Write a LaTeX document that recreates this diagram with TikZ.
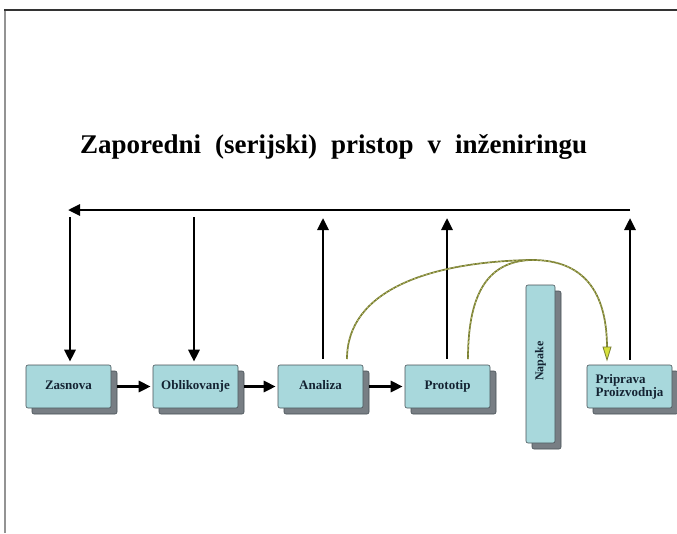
\documentclass[tikz,border=0pt]{standalone}
\usepackage{fontspec}
\setmainfont{Liberation Serif}
\usetikzlibrary{arrows.meta,shadows}
\definecolor{boxfill}{RGB}{168,216,220}
\definecolor{boxline}{RGB}{70,80,85}
\definecolor{shadowfill}{RGB}{120,126,132}
\definecolor{boxtext}{RGB}{20,35,50}
\definecolor{curveolive}{RGB}{120,126,50}
\definecolor{curvelight}{RGB}{205,205,120}
\definecolor{tipfill}{RGB}{215,225,60}
\tikzset{
  procbox/.style={rectangle, rounded corners=2pt, fill=boxfill, draw=boxline, line width=0.6pt,
    minimum width=85pt, minimum height=43pt, inner sep=0pt, text=boxtext,
    font=\fontsize{13}{15}\selectfont\bfseries,
    copy shadow={shadow xshift=6pt, shadow yshift=-6pt, fill=shadowfill, draw=boxline}},
  oneline/.style={text height=9pt, text depth=3pt},
  flowarrow/.style={line width=2.8pt, -{Triangle[length=12pt,width=11pt]}},
  feedback/.style={draw=curveolive, line width=1.7pt},
  feedbackdash/.style={draw=curvelight, line width=0.5pt, dash pattern=on 2pt off 2pt},
}
\begin{document}
\begin{tikzpicture}[x=1pt,y=-1pt]
\useasboundingbox (0,0) rectangle (677,533);
% frame
\draw[line width=2pt, draw=gray!85] (5,533) -- (5,10);
\draw[line width=1.3pt, draw=black!80] (4,10) -- (677,10);
% title
\node[anchor=base west, inner sep=0pt, font=\fontsize{27}{30}\selectfont\bfseries] (title) at (80,153)
  {\spaceskip=14pt Zaporedni (serijski) pristop v inženiringu};
% boxes
\node[procbox, oneline] (z) at (68.5,386.5) {Zasnova};
\node[procbox, oneline] (o) at (195.5,386.5) {Oblikovanje};
\node[procbox, oneline] (a) at (320.5,386.5) {Analiza};
\node[procbox, oneline] (p) at (447.5,386.5) {Prototip};
\node[procbox, minimum width=29pt, minimum height=158pt] (n) at (540.5,364) {};
\node[rotate=90, text=boxtext, font=\fontsize{12}{14}\selectfont\bfseries, inner sep=0pt] (nt) at (540.5,361) {Napake};
\node[procbox, align=left] (pp) at (629.5,386.5) {Priprava\\[-2pt]Proizvodnja};
% horizontal arrows between boxes
\draw[flowarrow] ([xshift=6pt]z.east) -- ([xshift=-2pt]o.west);
\draw[flowarrow] ([xshift=6pt]o.east) -- ([xshift=-2pt]a.west);
\draw[flowarrow] ([xshift=6pt]a.east) -- ([xshift=-2pt]p.west);
% top return line
\coordinate (topR) at (630,210);
\coordinate (topL) at (68,210);
\draw[flowarrow] (topR) -- (topL);
\coordinate (zt) at (70,217);
\coordinate (ot) at (194,217);
\coordinate (at) at (323,218);
\coordinate (ptp) at (447,218);
\coordinate (ppt) at (630,218);
\draw[flowarrow] (zt) -- ([xshift=1.5pt,yshift=3pt]z.north);
\draw[flowarrow] (ot) -- ([xshift=-1.5pt,yshift=3pt]o.north);
\draw[flowarrow] ([xshift=2.5pt,yshift=6pt]a.north) -- (at);
\draw[flowarrow] ([xshift=-0.5pt,yshift=6pt]p.north) -- (ptp);
\draw[flowarrow] ([xshift=0.5pt,yshift=5pt]pp.north) -- (ppt);
% feedback curves
\coordinate (c1s) at (347,359);
\coordinate (cpk) at (530,260);
\coordinate (c1e) at (607,360);
\coordinate (c2s) at (468,359);
\draw[feedback] (c1s) .. controls (347,290) and (430,262) .. (cpk)
  .. controls (590,259) and (607,300) .. (607,348);
\draw[feedbackdash] (c1s) .. controls (347,290) and (430,262) .. (cpk)
  .. controls (590,259) and (607,300) .. (607,348);
\draw[feedback] (c2s) .. controls (468,290) and (490,262) .. (cpk);
\draw[feedbackdash] (c2s) .. controls (468,290) and (490,262) .. (cpk);
\draw[draw=curveolive, line width=0.8pt, fill=tipfill] (c1e) -- (603,347) -- (611,347) -- cycle;
\end{tikzpicture}
\end{document}
